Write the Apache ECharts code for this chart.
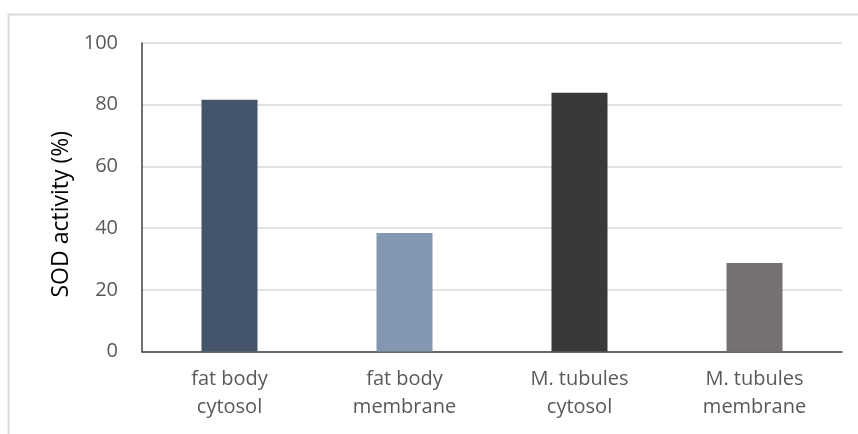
<!DOCTYPE html>
<html>
<head>
<meta charset="utf-8">
<script src="https://cdn.jsdelivr.net/npm/echarts@6/dist/echarts.min.js"></script>
<style>
  html, body { margin: 0; padding: 0; background: #fff; }
  #main { width: 858px; height: 434px; }
</style>
</head>
<body>
<div id="main"></div>
<script>
// 数据
const categories = ['fat body\ncytosol', 'fat body\nmembrane', 'M. tubules\ncytosol', 'M. tubules\nmembrane'];
const sodValues = [81.6, 38.4, 83.9, 28.7];
const barColors = ['#44546A', '#8497B0', '#3B3838', '#757171'];
const yTicks = [0, 20, 40, 60, 80, 100];

const chart = echarts.init(document.getElementById('main'));

chart.setOption({
    animation: false,
    textStyle: { fontFamily: 'Open Sans' },
    graphic: [{
        type: 'rect',
        shape: { x: 8.5, y: 14.5, width: 1000, height: 1000 },
        style: { fill: 'none', stroke: '#D9D9D9', lineWidth: 2 },
        silent: true,
        z: -1
    }],
    grid: { left: 142, right: 16, top: 43, bottom: 82.5 },
    xAxis: {
        type: 'category',
        data: categories,
        axisLine: { lineStyle: { color: '#404040', width: 1.5 } },
        axisTick: { show: false },
        axisLabel: { color: '#595959', fontSize: 20, lineHeight: 28, margin: 14 }
    },
    yAxis: {
        type: 'value',
        min: yTicks[0],
        max: yTicks[yTicks.length - 1],
        interval: 20,
        name: 'SOD activity (%)',
        nameLocation: 'middle',
        nameGap: 60,
        // 标题比绘图区中心略靠下
        nameTextStyle: { color: '#000', fontSize: 23, padding: [0, 34, 0, 0] },
        axisLine: { show: true, lineStyle: { color: '#404040', width: 1.5 } },
        axisTick: { show: false },
        axisLabel: { color: '#595959', fontSize: 20, margin: 24 },
        splitLine: { lineStyle: { color: '#D9D9D9', width: 1.5 } }
    },
    series: [{
        type: 'bar',
        barWidth: '32%',
        data: sodValues.map((v, i) => ({ value: v, itemStyle: { color: barColors[i] } }))
    }]
});
</script>
</body>
</html>
